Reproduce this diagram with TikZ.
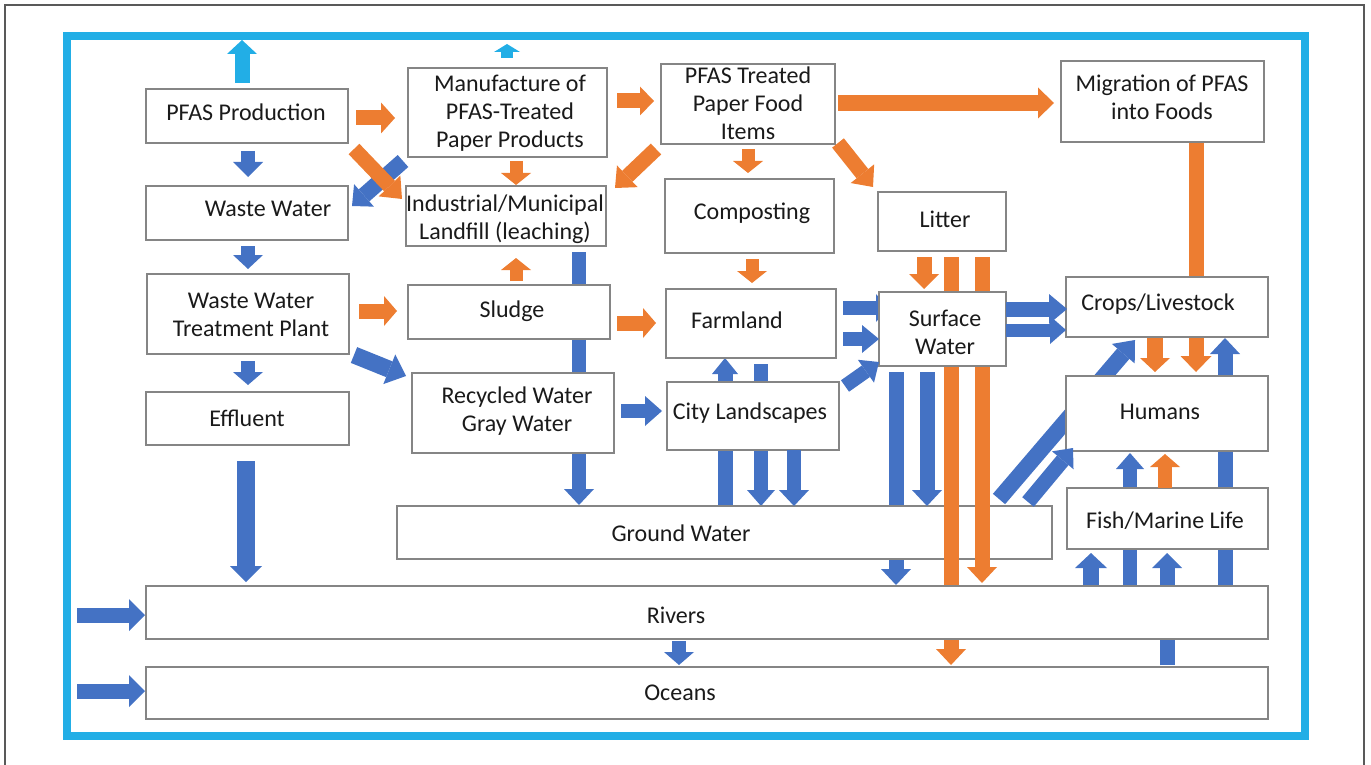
\documentclass[tikz,border=0pt]{standalone}
\usepackage{fontspec}
\setmainfont{Carlito}
\usetikzlibrary{arrows.meta}
\definecolor{ored}{HTML}{ED7D31}
\definecolor{bblue}{HTML}{4472C4}
\definecolor{cyanf}{HTML}{22AEE6}
\definecolor{boxgray}{HTML}{858585}
\definecolor{txt}{HTML}{1A1A1A}
\tikzset{
  box/.style={draw=boxgray, line width=1.3pt, fill=white, inner sep=0pt},
  lbl/.style={font=\fontsize{24}{28}\selectfont, text=txt, align=center, inner sep=0pt},
  barr/.style n args={4}{draw=#1, line width=#2, line cap=butt,
     -{Triangle[width=#3,length=#4,line width=0pt]}},
}
\begin{document}
\begin{tikzpicture}[x=1pt,y=-1pt]
\useasboundingbox (0,0) rectangle (1371,765);
% frames
\draw[black!65, line width=1.5pt] (5,775) -- (5,5) -- (1364,5) -- (1364,775);
\draw[cyanf, line width=8pt] (67,36) rectangle (1305,736);

% ---------- arrows lying under boxes ----------
\draw[barr={bblue}{14pt}{30pt}{16pt}] (579,252) -- (579,505);      % landfill -> ground water
\draw[barr={bblue}{15pt}{26pt}{16pt}] (725,506) -- (725,358);      % ground water -> farmland
\draw[barr={bblue}{14pt}{28pt}{16pt}] (761,364) -- (761,506);      % farmland -> ground water
\draw[barr={bblue}{14pt}{28pt}{12pt}] (843,308) -- (888,308);      % farmland -> surface water
\draw[barr={bblue}{15pt}{30pt}{16pt}] (896,372) -- (896,585);      % surface water -> rivers
\draw[barr={bblue}{16pt}{30pt}{18pt}] (999,499) -- (1135,340);     % ground water -> crops
\draw[barr={bblue}{15pt}{30pt}{16pt}] (1225,585) -- (1225,338);    % rivers -> crops
\draw[barr={bblue}{14pt}{28pt}{16pt}] (1130,585) -- (1130,453);    % rivers -> humans
\draw[barr={bblue}{15pt}{30pt}{15pt}] (1167,665) -- (1167,553);    % oceans -> fish
\draw[barr={ored}{15pt}{31pt}{16pt}] (1196,142) -- (1196,372);     % migration -> humans

% ground water box
\node[box, minimum width=655pt, minimum height=53pt] (gw) at (724.5,532.5) {};
\node[lbl] (gwt) at (681,533) {Ground Water};

% orange bars over ground water
\draw[barr={ored}{15pt}{30pt}{16pt}] (951,257) -- (951,665);
\draw[barr={ored}{15pt}{30pt}{16pt}] (982,257) -- (982,583);

% ---------- boxes ----------
\node[box, minimum width=202pt, minimum height=54pt] (pp) at (247,116) {};
\node[lbl] (ppt) at (246,112) {PFAS Production};
\node[box, minimum width=199pt, minimum height=89pt] (mf) at (507.5,112.5) {};
\node[lbl] (mft) at (510,113) {Manufacture of\\PFAS-Treated\\Paper Products};
\node[box, minimum width=174pt, minimum height=80pt] (pt) at (748,104) {};
\node[lbl] (ptt) at (748,103) {PFAS Treated\\Paper Food\\Items};
\node[box, minimum width=203pt, minimum height=81pt] (mg) at (1162.5,101.5) {};
\node[lbl] (mgt) at (1162,97) {Migration of PFAS\\into Foods};
\node[box, minimum width=202pt, minimum height=54pt] (ww) at (247,213) {};
\node[lbl] (wwt) at (268,209) {Waste Water};
\node[box, minimum width=200pt, minimum height=60pt] (lf) at (506,216) {};
\node[lbl] (lft) at (505,219) {Industrial/Municipal\\Landfill (leaching)};
\node[box, minimum width=169pt, minimum height=74pt] (cp) at (749.5,216) {};
\node[lbl] (cpt) at (752,213) {Composting};
\node[box, minimum width=128pt, minimum height=59pt] (lt) at (942,221.5) {};
\node[lbl] (ltt) at (945,219) {Litter};
\node[box, minimum width=202pt, minimum height=80pt] (wt) at (248,314) {};
\node[lbl] (wtt) at (251,315) {Waste Water\\Treatment Plant};
\node[box, minimum width=202pt, minimum height=54pt] (sl) at (509,312) {};
\node[lbl] (slt) at (512,311) {Sludge};
\node[box, minimum width=170pt, minimum height=69pt] (fm) at (751,323.5) {};
\node[lbl] (fmt) at (737,320) {Farmland};
\node[box, minimum width=127pt, minimum height=74pt] (sw) at (942.5,329) {};
\node[lbl] (swt) at (945,332) {Surface\\Water};
\node[box, minimum width=202pt, minimum height=60pt] (cl) at (1167,307) {};
\node[lbl] (clt) at (1158,304) {Crops/Livestock};
\node[box, minimum width=203pt, minimum height=53pt] (ef) at (247.5,418.5) {};
\node[lbl] (eft) at (247,418) {Effluent};
\node[box, minimum width=202pt, minimum height=80pt] (rw) at (513,413) {};
\node[lbl] (rwt) at (517,411) {Recycled Water\\Gray Water};
\node[box, minimum width=172pt, minimum height=68pt] (cy) at (753,416) {};
\node[lbl] (cyt) at (750,413) {City Landscapes};
\node[box, minimum width=202pt, minimum height=75pt] (hu) at (1167,413.5) {};
\node[lbl] (hut) at (1160,412) {Humans};
\node[box, minimum width=201pt, minimum height=61pt] (fi) at (1167.5,518.5) {};
\node[lbl] (fit) at (1165,521) {Fish/Marine Life};
\node[box, minimum width=1122pt, minimum height=53pt] (rv) at (707,612.5) {};
\node[lbl] (rvt) at (676,615) {Rivers};
\node[box, minimum width=1122pt, minimum height=52pt] (oc) at (707,693) {};
\node[lbl] (oct) at (680,693) {Oceans};

% ---------- arrows on top ----------
% cyan
\draw[barr={cyanf}{15pt}{30pt}{14pt}] (242,83) -- (242,40);
\draw[barr={cyanf}{12pt}{26pt}{8pt}] (507,58) -- (507,44);
% blue diagonal into waste water (under orange)
\draw[barr={bblue}{16pt}{30pt}{16pt}] (403,161) -- (352,206);
% orange
\draw[barr={ored}{15pt}{31pt}{14pt}] (356,118) -- (395,118);
\draw[barr={ored}{15pt}{30pt}{18pt}] (354,149) -- (402,199);
\draw[barr={ored}{15pt}{29pt}{14pt}] (617,101) -- (654,101);
\draw[barr={ored}{13pt}{30pt}{12pt}] (516,161) -- (516,185);
\draw[barr={ored}{15pt}{30pt}{17pt}] (656,149) -- (615,188);
\draw[barr={ored}{13pt}{30pt}{12pt}] (748,149) -- (748,173);
\draw[barr={ored}{16pt}{31pt}{16pt}] (838,103) -- (1054,103);
\draw[barr={ored}{15pt}{30pt}{17pt}] (838,143) -- (873,187);
\draw[barr={ored}{13pt}{30pt}{12pt}] (516,281) -- (516,258);
\draw[barr={ored}{15pt}{30pt}{13pt}] (359,311) -- (397,311);
\draw[barr={ored}{15pt}{30pt}{13pt}] (617,323) -- (656,323);
\draw[barr={ored}{13pt}{30pt}{12pt}] (752,259) -- (752,283);
\draw[barr={ored}{15pt}{30pt}{15pt}] (924,257) -- (924,289);
\draw[barr={ored}{16pt}{30pt}{14pt}] (1155,338) -- (1155,372);
\draw[barr={ored}{14pt}{30pt}{13pt}] (1165,488) -- (1165,454);
% blue
\draw[barr={bblue}{14pt}{30pt}{15pt}] (248,151) -- (248,177);
\draw[barr={bblue}{14pt}{30pt}{14pt}] (248,246) -- (248,269);
\draw[barr={bblue}{14pt}{30pt}{13pt}] (248,361) -- (248,385);
\draw[barr={bblue}{17pt}{32pt}{18pt}] (354,355) -- (406,376);
\draw[barr={bblue}{18pt}{32pt}{16pt}] (246,461) -- (246,582);
\draw[barr={bblue}{14pt}{30pt}{17pt}] (621,411) -- (662,411);
\draw[barr={bblue}{14pt}{30pt}{16pt}] (794,450) -- (794,506);
\draw[barr={bblue}{14pt}{28pt}{17pt}] (843,339) -- (879,339);
\draw[barr={bblue}{14pt}{28pt}{16pt}] (845,386) -- (879,362);
\draw[barr={bblue}{15pt}{30pt}{16pt}] (927,372) -- (927,506);
\draw[barr={bblue}{15pt}{30pt}{18pt}] (1006,309) -- (1067,309);
\draw[barr={bblue}{13pt}{28pt}{16pt}] (1006,330) -- (1066,330);
\draw[barr={bblue}{15pt}{28pt}{16pt}] (1028,502) -- (1073,448);
\draw[barr={bblue}{16pt}{32pt}{15pt}] (1091,585) -- (1091,553);
\draw[barr={bblue}{14pt}{30pt}{13pt}] (679,641) -- (679,665);
\draw[barr={bblue}{15pt}{32pt}{16pt}] (77,615) -- (145,615);
\draw[barr={bblue}{15pt}{32pt}{16pt}] (77,691) -- (145,691);
\end{tikzpicture}
\end{document}
